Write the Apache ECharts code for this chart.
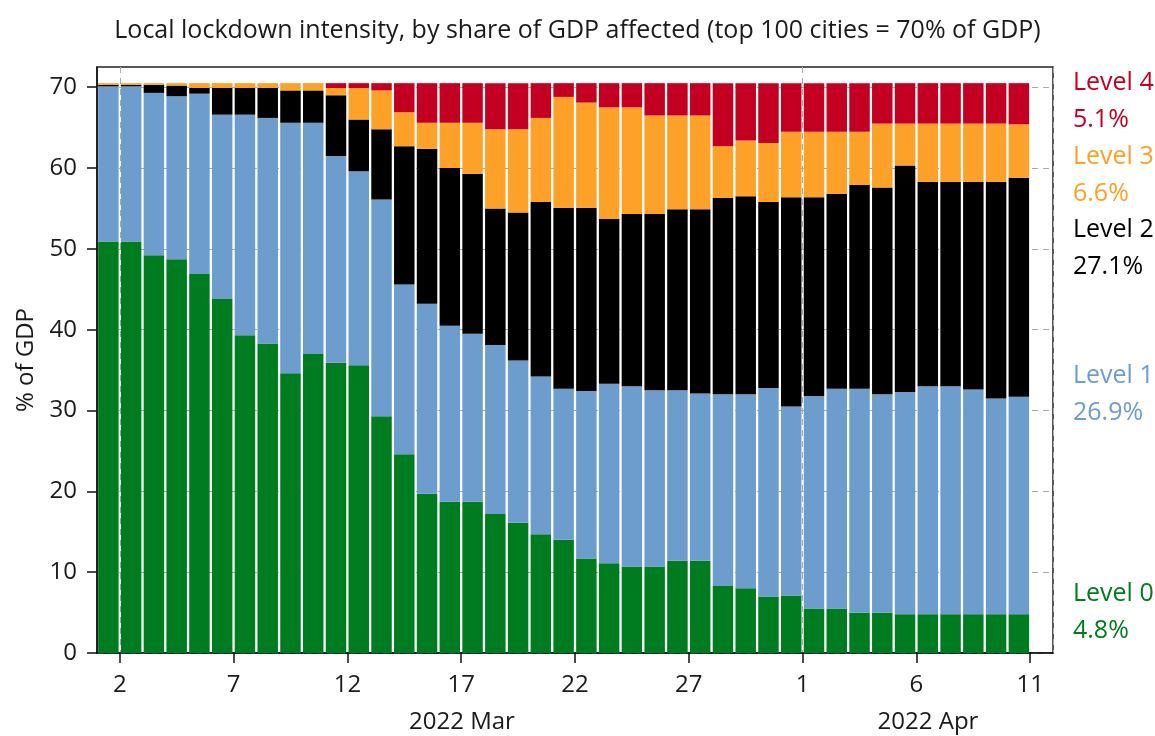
<!DOCTYPE html>
<html>
<head>
<meta charset="utf-8">
<script src="https://cdn.jsdelivr.net/npm/echarts@6/dist/echarts.min.js"></script>
<style>
  html, body { margin: 0; padding: 0; background: #fff; }
  #chart { width: 1155px; height: 736px; }
</style>
</head>
<body>
<div id="chart"></div>
<script>
// days Mar 1 .. Apr 11 (last slot has no bar)
const days = ['1','2','3','4','5','6','7','8','9','10','11','12','13','14','15','16','17','18','19','20',
  '21','22','23','24','25','26','27','28','29','30','31','1','2','3','4','5','6','7','8','9','10','11']

// % of GDP per lockdown level, Mar 1 .. Apr 10
const level0 = [50.9,50.9,49.2,48.7,46.9,43.8,39.3,38.3,34.6,37.0,35.9,35.6,29.3,24.6,19.7,18.7,18.7,17.2,16.1,14.7,
  14.0,11.7,11.1,10.7,10.7,11.4,11.4,8.3,8.0,7.0,7.1,5.5,5.5,5.0,5.0,4.8,4.8,4.8,4.8,4.8,4.8]
const level1 = [19.2,19.2,20.1,20.2,22.3,22.8,27.3,27.9,31.0,28.6,25.6,24.0,26.8,21.0,23.5,21.8,20.8,20.9,20.1,19.5,
  18.7,20.7,22.2,22.3,21.8,21.1,20.7,23.7,24.0,25.8,23.4,26.3,27.2,27.7,27.0,27.5,28.2,28.2,27.8,26.7,26.9]
const level2 = [0.2,0.2,1.0,1.3,0.7,3.3,3.3,3.7,4.0,4.0,7.5,6.4,8.7,17.1,19.2,19.5,19.8,16.9,18.3,21.6,
  22.4,22.7,20.4,21.3,21.8,22.4,22.8,24.3,24.5,23.0,25.9,24.6,24.1,25.2,25.6,28.0,25.3,25.3,25.7,26.8,27.1]
const level3 = [0.2,0.2,0.2,0.3,0.6,0.6,0.6,0.6,0.9,0.9,0.9,3.9,4.8,4.2,3.2,5.6,6.3,9.8,10.3,10.4,
  13.7,13.0,13.8,13.2,12.2,11.6,11.6,6.4,6.9,7.3,8.1,8.1,7.7,6.6,7.9,5.2,7.2,7.2,7.2,7.2,6.6]
const level4 = [0.0,0.0,0.0,0.0,0.0,0.0,0.0,0.0,0.0,0.0,0.6,0.6,0.9,3.6,4.9,4.9,4.9,5.7,5.7,4.3,
  1.7,2.4,3.0,3.0,4.0,4.0,4.0,7.8,7.1,7.4,6.0,6.0,6.0,6.0,5.0,5.0,5.0,5.0,5.0,5.0,5.1]

const levelNames = ['Level 0', 'Level 1', 'Level 2', 'Level 3', 'Level 4']
const levelColors = ['#007c20', '#6c9dcd', '#000000', '#fda128', '#c30022']
const levelData = [level0, level1, level2, level3, level4]
const yTicks = [0, 10, 20, 30, 40, 50, 60, 70]
// day boundaries that get a tick + label (Mar 2, 7, ... Apr 11)
const xTicks = [1, 6, 11, 16, 21, 26, 31, 36, 41]
const monthNames = ['2022 Mar', '2022 Apr']

const fontFamily = 'Open Sans'
const textColor = '#1a1a1a'
const fontSize = 24
// label positions beside the plot (y of block centre)
const endLabelY = [612, 394, 248, 175, 101]

const chart = echarts.init(document.getElementById('chart'))

const monthLine = (index) => index === 1 || index === 31

const option = {
  animation: false,
  backgroundColor: '#fff',
  textStyle: { fontFamily: fontFamily },
  title: {
    text: 'Local lockdown intensity, by share of GDP affected (top 100 cities = 70% of GDP)',
    left: 'center',
    top: 13,
    textStyle: { fontSize: 25, fontWeight: 'normal', color: textColor, fontFamily: fontFamily },
  },
  grid: {
    left: 97,
    right: 102,
    top: 67,
    bottom: 83,
    show: true,
    borderColor: '#222',
    borderWidth: 1.5,
  },
  xAxis: [
    {
      // bars sit in day slots
      type: 'category',
      data: days,
      boundaryGap: true,
      axisLine: { show: false },
      axisTick: { show: false },
      axisLabel: { show: false },
      splitLine: {
        show: true,
        interval: monthLine,
        lineStyle: { color: '#aaa', type: [6, 5], width: 1 },
      },
    },
    {
      // ticks and labels on day boundaries
      type: 'value',
      position: 'bottom',
      min: 0,
      max: days.length,
      axisLine: { show: true, onZero: false, lineStyle: { color: '#111', width: 1.5 } },
      axisTick: { show: true, length: 10, customValues: xTicks, lineStyle: { color: '#111', width: 1.5 } },
      axisLabel: {
        customValues: xTicks,
        margin: 20,
        fontSize: fontSize,
        color: textColor,
        fontFamily: fontFamily,
        formatter: (v) => days[v],
      },
      splitLine: { show: false },
    },
  ],
  yAxis: {
    type: 'value',
    min: 0,
    max: 72.5,
    interval: 10,
    name: '% of GDP',
    nameLocation: 'middle',
    nameGap: 56,
    nameTextStyle: { fontSize: fontSize, color: textColor, fontFamily: fontFamily },
    axisLine: { show: true, lineStyle: { color: '#111', width: 1.5 } },
    axisTick: { show: true, length: 10, customValues: yTicks, lineStyle: { color: '#111', width: 1.5 } },
    axisLabel: { customValues: yTicks, margin: 20, fontSize: fontSize, color: textColor, fontFamily: fontFamily },
    splitLine: { show: true, lineStyle: { color: '#aaa', type: [6, 5], width: 1 } },
  },
  series: levelData.map((d, i) => ({
    name: levelNames[i],
    type: 'bar',
    stack: 'gdp',
    xAxisIndex: 0,
    data: d,
    barCategoryGap: '10%',
    itemStyle: { color: levelColors[i] },
  })),
  graphic: [
    {
      type: 'text',
      x: 462, y: 722,
      style: { text: monthNames[0], fill: textColor, fontSize: fontSize, fontFamily: fontFamily, align: 'center', verticalAlign: 'middle' },
    },
    {
      type: 'text',
      x: 928, y: 722,
      style: { text: monthNames[1], fill: textColor, fontSize: fontSize, fontFamily: fontFamily, align: 'center', verticalAlign: 'middle' },
    },
  ].concat(levelData.map((d, i) => ({
    type: 'text',
    x: 1073,
    y: endLabelY[i],
    style: {
      text: levelNames[i] + '\n' + d[d.length - 1].toFixed(1) + '%',
      fill: levelColors[i],
      fontSize: 25,
      lineHeight: 37,
      fontFamily: fontFamily,
      align: 'left',
      verticalAlign: 'middle',
    },
  }))),
}

chart.setOption(option)
</script>
</body>
</html>
